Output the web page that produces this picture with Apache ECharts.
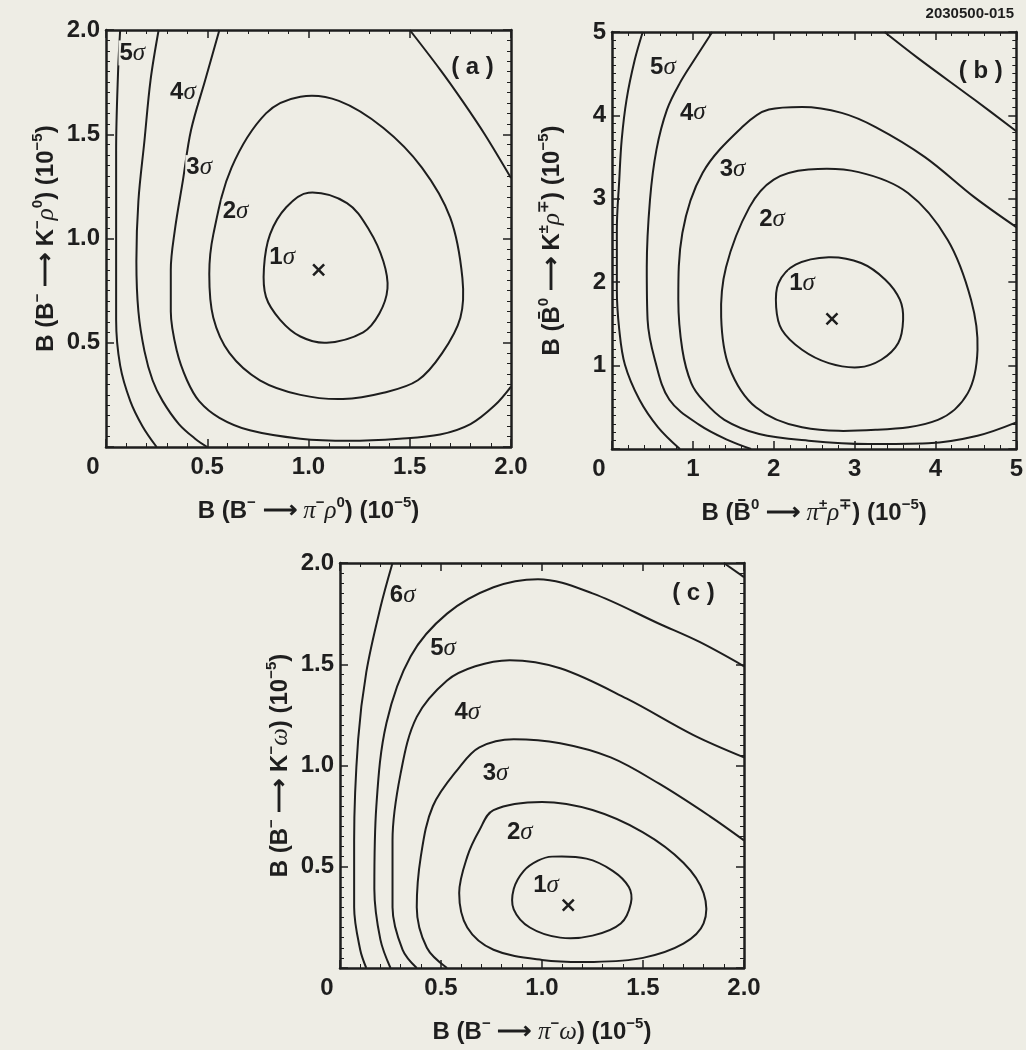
<!DOCTYPE html>
<html>
<head>
<meta charset="utf-8">
<script src="https://cdn.jsdelivr.net/npm/echarts@6/dist/echarts.min.js"></script>
<style>
  html, body { margin: 0; padding: 0; background: #eeede5; }
  #chart { width: 1026px; height: 1050px; }
</style>
</head>
<body>
<div id="chart"></div>
<script>
// ---- Panel (a): B(B- -> pi- rho0) vs B(B- -> K- rho0), units of 1e-5 ----
const aSigma1 = [[1.00,1.22],[1.19,1.17],[1.30,1.04],[1.37,0.89],[1.39,0.76],[1.35,0.64],[1.27,0.55],[1.09,0.50],[0.96,0.53],[0.86,0.61],[0.79,0.72],[0.78,0.86],[0.81,1.02],[0.89,1.15]];
const aSigma2 = [[0.96,1.68],[1.15,1.66],[1.37,1.53],[1.56,1.34],[1.70,1.10],[1.76,0.81],[1.75,0.62],[1.66,0.45],[1.54,0.32],[1.37,0.26],[1.17,0.23],[0.96,0.25],[0.76,0.32],[0.61,0.45],[0.53,0.62],[0.51,0.83],[0.53,1.02],[0.62,1.34],[0.79,1.60]];
const aSigma3 = [[0.56,2.0],[0.49,1.76],[0.42,1.52],[0.38,1.28],[0.34,1.04],[0.32,0.85],[0.32,0.65],[0.35,0.46],[0.40,0.32],[0.46,0.22],[0.56,0.14],[0.71,0.08],[0.96,0.04],[1.20,0.03],[1.45,0.04],[1.65,0.06],[1.80,0.11],[1.92,0.20],[2.0,0.29]];
const aSigma3Corner = [[1.50,2.0],[1.65,1.81],[1.76,1.66],[1.87,1.50],[2.0,1.29]];
const aSigma4 = [[0.26,2.0],[0.22,1.76],[0.19,1.47],[0.16,1.18],[0.15,0.89],[0.16,0.65],[0.19,0.46],[0.23,0.32],[0.28,0.22],[0.36,0.11],[0.44,0.04],[0.50,0.0]];
const aSigma5 = [[0.07,2.0],[0.06,1.81],[0.05,1.42],[0.05,0.94],[0.05,0.61],[0.07,0.39],[0.12,0.22],[0.18,0.10],[0.25,0.0]];
const aBest = [1.05, 0.85];
const aLabels = [['5',0.13,1.89],['4',0.38,1.70],['3',0.46,1.34],['2',0.64,1.13],['1',0.87,0.91]];
const aTag = ['( a )', 1.81, 1.82];

// ---- Panel (b): B(B0bar -> pi+- rho-+) vs B(B0bar -> K+- rho-+) ----
const bSigma1 = [[2.68,2.30],[3.08,2.23],[3.38,2.03],[3.56,1.79],[3.60,1.55],[3.54,1.27],[3.33,1.07],[3.05,0.98],[2.68,1.03],[2.35,1.19],[2.10,1.43],[2.03,1.70],[2.06,1.99],[2.27,2.21]];
const bSigma2 = [[2.43,3.35],[3.05,3.32],[3.66,3.07],[4.15,2.51],[4.44,1.79],[4.52,1.19],[4.40,0.67],[4.03,0.35],[3.26,0.23],[2.35,0.26],[1.78,0.50],[1.45,0.98],[1.35,1.58],[1.41,2.18],[1.70,2.90],[2.00,3.23]];
const bSigma3 = [[5.0,2.66],[4.48,3.02],[3.87,3.50],[3.26,3.86],[2.84,4.03],[2.35,4.10],[1.94,4.07],[1.61,3.86],[1.12,3.31],[0.87,2.59],[0.82,1.79],[0.87,1.19],[0.98,0.79],[1.12,0.59],[1.39,0.35],[1.82,0.18],[2.43,0.10],[3.17,0.06],[3.91,0.07],[4.52,0.16],[5.0,0.32]];
const bSigma4 = [[1.24,5.0],[1.04,4.70],[0.84,4.39],[0.68,4.07],[0.55,3.59],[0.47,2.99],[0.43,2.18],[0.44,1.55],[0.53,1.07],[0.71,0.59],[1.08,0.29],[1.45,0.10],[1.72,0.0]];
const bSigma4Corner = [[3.37,5.0],[3.78,4.69],[4.48,4.19],[5.0,3.81]];
const bSigma5 = [[0.38,5.0],[0.28,4.66],[0.18,4.19],[0.12,3.71],[0.09,3.23],[0.06,2.63],[0.06,1.91],[0.09,1.43],[0.16,1.01],[0.34,0.59],[0.57,0.26],[0.84,0.0]];
const bBest = [2.72, 1.56];
const bLabels = [['5',0.63,4.58],['4',1.00,4.03],['3',1.49,3.35],['2',1.98,2.75],['1',2.35,1.99]];
const bTag = ['( b )', 4.56, 4.53];

// ---- Panel (c): B(B- -> pi- omega) vs B(B- -> K- omega) ----
const cSigma1 = [[1.05,0.55],[1.22,0.54],[1.35,0.48],[1.43,0.40],[1.44,0.32],[1.39,0.22],[1.25,0.16],[1.09,0.15],[0.94,0.20],[0.86,0.29],[0.86,0.39],[0.91,0.48],[0.98,0.53]];
const cSigma2 = [[0.76,0.78],[1.00,0.82],[1.25,0.78],[1.50,0.67],[1.70,0.52],[1.80,0.37],[1.80,0.22],[1.70,0.12],[1.50,0.05],[1.25,0.03],[1.00,0.04],[0.76,0.09],[0.63,0.20],[0.59,0.37],[0.63,0.55],[0.69,0.68]];
const cSigma3 = [[2.0,0.63],[1.83,0.75],[1.58,0.91],[1.34,1.04],[1.09,1.11],[0.86,1.13],[0.69,1.09],[0.59,0.99],[0.46,0.80],[0.40,0.55],[0.38,0.30],[0.43,0.10],[0.53,0.0]];
const cSigma4 = [[2.0,1.04],[1.75,1.15],[1.42,1.33],[1.09,1.48],[0.84,1.52],[0.67,1.49],[0.53,1.42],[0.38,1.24],[0.30,0.96],[0.26,0.63],[0.26,0.30],[0.31,0.09],[0.38,0.0]];
const cSigma5 = [[2.0,1.49],[1.78,1.61],[1.58,1.70],[1.25,1.85],[0.98,1.92],[0.76,1.88],[0.53,1.75],[0.35,1.54],[0.23,1.21],[0.18,0.80],[0.17,0.39],[0.20,0.14],[0.25,0.0]];
const cSigma6 = [[0.26,2.0],[0.20,1.78],[0.13,1.46],[0.09,1.13],[0.07,0.63],[0.07,0.30],[0.10,0.09],[0.13,0.0]];
const cSigma6Corner = [[1.90,2.0],[2.0,1.93]];
const cBest = [1.13, 0.31];
const cLabels = [['6',0.31,1.84],['5',0.51,1.58],['4',0.63,1.26],['3',0.77,0.96],['2',0.89,0.67],['1',1.02,0.41]];
const cTag = ['( c )', 1.75, 1.85];

// axis ranges [max, major step] for each panel
const aRange = [2.0, 0.5];
const bRange = [5, 1];
const cRange = [2.0, 0.5];

const figureId = '2030500-015';

const SANS = "'Liberation Sans', Arial, Helvetica, sans-serif";
const GREEK = "'Liberation Serif', 'DejaVu Serif', serif";
const INK = '#1e1e1e';
const PAPER = '#eeede5';

const titleRich = {
  t:   { fontSize: 24, fontWeight: 'bold', fontFamily: SANS, color: INK, lineHeight: 32 },
  sup: { fontSize: 15, fontWeight: 'bold', fontFamily: SANS, color: INK, lineHeight: 14, verticalAlign: 'top' },
  g:   { fontSize: 25, fontStyle: 'italic', fontFamily: GREEK, color: INK, lineHeight: 32 }
};

const names = {
  ax: '{t|B (B}{sup|\u2212}{t| \u27F6 }{g|\u03C0}{sup|\u2212}{g|\u03C1}{sup|0}{t|) (10}{sup|\u22125}{t|)}',
  ay: '{t|B (B}{sup|\u2212}{t| \u27F6 K}{sup|\u2212}{g|\u03C1}{sup|0}{t|) (10}{sup|\u22125}{t|)}',
  bx: '{t|B (B\u0304}{sup|0}{t| \u27F6 }{g|\u03C0}{sup|\u00B1}{g|\u03C1}{sup|\u2213}{t|) (10}{sup|\u22125}{t|)}',
  by: '{t|B (B\u0304}{sup|0}{t| \u27F6 K}{sup|\u00B1}{g|\u03C1}{sup|\u2213}{t|) (10}{sup|\u22125}{t|)}',
  cx: '{t|B (B}{sup|\u2212}{t| \u27F6 }{g|\u03C0}{sup|\u2212}{g|\u03C9}{t|) (10}{sup|\u22125}{t|)}',
  cy: '{t|B (B}{sup|\u2212}{t| \u27F6 K}{sup|\u2212}{g|\u03C9}{t|) (10}{sup|\u22125}{t|)}'
};

const tickFont = { color: INK, fontFamily: SANS, fontSize: 24, fontWeight: 'bold' };

function fmtFor(step) {
  return v => (step < 1 ? v.toFixed(1) : String(Math.round(v)));
}

function xPair(gridIndex, range, name) {
  const [max, step] = range;
  const fmt = fmtFor(step);
  const common = {
    type: 'value', gridIndex, min: 0, max, interval: step,
    axisLine: { show: true, onZero: false, lineStyle: { color: INK, width: 2.5 } },
    axisTick: { show: true, inside: true, length: 8, lineStyle: { color: INK, width: 1.5 } },
    minorTick: { show: true, splitNumber: 5, length: 4, lineStyle: { color: INK, width: 1 } },
    splitLine: { show: false }, minorSplitLine: { show: false }
  };
  return [
    Object.assign({}, common, {
      position: 'bottom',
      name, nameLocation: 'middle', nameGap: 48, nameTextStyle: { rich: titleRich },
      axisLabel: Object.assign({}, tickFont, {
        margin: 8,
        formatter: v => (v === 0 ? '{z|0}' : fmt(v)),
        rich: { z: Object.assign({}, tickFont, { padding: [0, 26, 0, 0] }) }
      })
    }),
    Object.assign({}, common, { position: 'top', axisLabel: { show: false } })
  ];
}

function yPair(gridIndex, range, name) {
  const [max, step] = range;
  const fmt = fmtFor(step);
  const common = {
    type: 'value', gridIndex, min: 0, max, interval: step,
    axisLine: { show: true, onZero: false, lineStyle: { color: INK, width: 2.5 } },
    axisTick: { show: true, inside: true, length: 8, lineStyle: { color: INK, width: 1.5 } },
    minorTick: { show: true, splitNumber: 10, length: 4, lineStyle: { color: INK, width: 1 } },
    splitLine: { show: false }, minorSplitLine: { show: false }
  };
  return [
    Object.assign({}, common, {
      position: 'left',
      name, nameLocation: 'middle', nameGap: 44, nameRotate: 90, nameTextStyle: { rich: titleRich },
      axisLabel: Object.assign({}, tickFont, {
        margin: 6,
        formatter: v => (v === 0 ? '' : fmt(v))
      })
    }),
    Object.assign({}, common, { position: 'right', axisLabel: { show: false } })
  ];
}

// Open contours (ending on the frame) as smoothed line series.
function contour(data, panel) {
  return {
    type: 'line', xAxisIndex: panel * 2, yAxisIndex: panel * 2,
    data, smooth: 0.35, symbol: 'none', clip: true, silent: true,
    lineStyle: { color: INK, width: 2 }, z: 3
  };
}

// Closed contours: one smoothed polygon through all points, mapped with the axes' scales.
function loop(data, panel) {
  return {
    type: 'custom', xAxisIndex: panel * 2, yAxisIndex: panel * 2,
    coordinateSystem: 'cartesian2d', silent: true, z: 3,
    data,
    encode: { x: 0, y: 1 },
    renderItem: (params, api) => {
      if (params.dataIndex !== 0) return null;
      const points = data.map(p => api.coord(p));
      return {
        type: 'polygon',
        shape: { points, smooth: 0.35 },
        style: { fill: 'none', stroke: INK, lineWidth: 2 }
      };
    }
  };
}

const labelRich = {
  n: { fontSize: 24, fontWeight: 'bold', fontFamily: SANS, color: INK },
  s: { fontSize: 25, fontStyle: 'italic', fontFamily: GREEK, color: INK },
  tag: { fontSize: 24, fontWeight: 'bold', fontFamily: SANS, color: INK }
};

function sigmaLabels(list, tag, panel) {
  const data = list.map(([lvl, x, y]) => ({ value: [x, y], name: lvl, kind: 'sigma' }));
  data.push({ value: [tag[1], tag[2]], name: tag[0], kind: 'tag' });
  return {
    type: 'scatter', xAxisIndex: panel * 2, yAxisIndex: panel * 2,
    data, symbol: 'rect', symbolSize: 1, silent: true, z: 6,
    itemStyle: { color: 'rgba(0,0,0,0)', opacity: 1 },
    label: {
      show: true, position: 'inside', opacity: 1, color: INK,
      backgroundColor: PAPER, padding: [0, 1],
      formatter: p => (p.data.kind === 'tag' ? '{tag|' + p.name + '}' : '{n|' + p.name + '}{s|\u03C3}'),
      rich: labelRich
    }
  };
}

function bestFit(pt, panel) {
  return {
    type: 'scatter', xAxisIndex: panel * 2, yAxisIndex: panel * 2,
    data: [pt], symbol: 'path://M0,0L10,10M10,0L0,10', symbolSize: 11, silent: true, z: 5,
    itemStyle: { color: 'none', borderColor: INK, borderWidth: 2.5, opacity: 1 }
  };
}

const chart = echarts.init(document.getElementById('chart'), null, { renderer: 'canvas' });

chart.setOption({
  backgroundColor: PAPER,
  animation: false,
  grid: [
    { left: 106, top: 30, width: 405, height: 417 },
    { left: 612, top: 32, width: 407, height: 417 },
    { left: 340, top: 563, width: 404, height: 405 }
  ],
  xAxis: [].concat(xPair(0, aRange, names.ax), xPair(1, bRange, names.bx), xPair(2, cRange, names.cx)),
  yAxis: [].concat(yPair(0, aRange, names.ay), yPair(1, bRange, names.by), yPair(2, cRange, names.cy)),
  graphic: [{
    type: 'text', right: 12, top: 6,
    style: { text: figureId, font: 'bold 15px ' + SANS, fill: INK }
  }],
  series: [
    loop(aSigma1, 0), loop(aSigma2, 0), contour(aSigma3, 0), contour(aSigma3Corner, 0),
    contour(aSigma4, 0), contour(aSigma5, 0),
    bestFit(aBest, 0), sigmaLabels(aLabels, aTag, 0),

    loop(bSigma1, 1), loop(bSigma2, 1), contour(bSigma3, 1), contour(bSigma4, 1),
    contour(bSigma4Corner, 1), contour(bSigma5, 1),
    bestFit(bBest, 1), sigmaLabels(bLabels, bTag, 1),

    loop(cSigma1, 2), loop(cSigma2, 2), contour(cSigma3, 2), contour(cSigma4, 2),
    contour(cSigma5, 2), contour(cSigma6, 2), contour(cSigma6Corner, 2),
    bestFit(cBest, 2), sigmaLabels(cLabels, cTag, 2)
  ]
});
</script>
</body>
</html>
